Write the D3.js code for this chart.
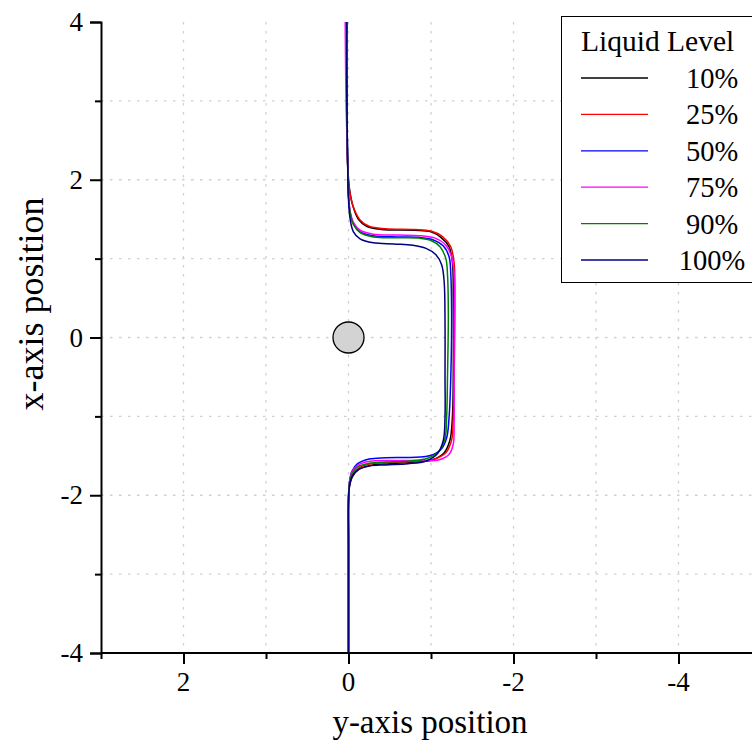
<!DOCTYPE html>
<html><head><meta charset="utf-8">
<script src="https://cdn.jsdelivr.net/npm/d3@7"></script>
<style>
html,body{margin:0;padding:0;background:#fff;overflow:hidden;}
svg{display:block;font-family:"Liberation Serif","Times New Roman",serif;}
</style></head>
<body>
<svg id="chart" width="752" height="742"></svg>
<script>
// ---- data: [y-axis position, x-axis position] pairs ----
const levels = ["10%", "25%", "50%", "75%", "90%", "100%"];
const path10 = [[0.03,4.0],[0.02,3.0],[0.01,2.2],[-0.01,1.9],[-0.05,1.68],[-0.12,1.5],[-0.22,1.41],[-0.4,1.37],[-0.8,1.36],[-1.0,1.34],[-1.12,1.27],[-1.22,1.15],[-1.26,0.95],[-1.27,0.5],[-1.27,-0.5],[-1.26,-1.0],[-1.23,-1.3],[-1.16,-1.46],[-1.02,-1.55],[-0.8,-1.58],[-0.5,-1.60],[-0.28,-1.62],[-0.13,-1.67],[-0.05,-1.76],[-0.01,-1.9],[0,-2.1],[0,-2.6],[0,-4.0]];
const path25 = [[0.02,4.0],[0.02,3.0],[0.01,2.2],[-0.01,1.88],[-0.06,1.65],[-0.14,1.49],[-0.25,1.41],[-0.45,1.38],[-0.8,1.37],[-1.0,1.35],[-1.14,1.28],[-1.24,1.15],[-1.28,0.95],[-1.29,0.5],[-1.28,-0.5],[-1.27,-1.0],[-1.25,-1.3],[-1.18,-1.46],[-1.03,-1.545],[-0.8,-1.57],[-0.5,-1.585],[-0.28,-1.6],[-0.13,-1.65],[-0.05,-1.74],[-0.01,-1.88],[0,-2.1],[0,-2.6],[0,-4.0]];
const path50 = [[0.03,4.0],[0.02,3.0],[0.01,2.2],[0.0,1.8],[-0.02,1.58],[-0.06,1.44],[-0.14,1.34],[-0.3,1.29],[-0.6,1.275],[-0.85,1.27],[-1.02,1.24],[-1.15,1.16],[-1.22,1.02],[-1.24,0.8],[-1.25,0.3],[-1.24,-0.5],[-1.22,-1.0],[-1.19,-1.27],[-1.12,-1.42],[-0.98,-1.5],[-0.75,-1.52],[-0.45,-1.525],[-0.25,-1.54],[-0.11,-1.6],[-0.04,-1.7],[-0.01,-1.85],[0,-2.05],[0,-2.6],[0,-4.0]];
const path75 = [[0.04,4.0],[0.03,3.0],[0.01,2.2],[0.0,1.8],[-0.02,1.6],[-0.06,1.46],[-0.14,1.36],[-0.3,1.31],[-0.6,1.3],[-0.88,1.29],[-1.05,1.26],[-1.18,1.17],[-1.25,1.02],[-1.28,0.8],[-1.28,0.2],[-1.28,-0.6],[-1.28,-1.1],[-1.27,-1.35],[-1.22,-1.48],[-1.1,-1.55],[-0.85,-1.56],[-0.5,-1.56],[-0.26,-1.57],[-0.11,-1.62],[-0.04,-1.71],[-0.01,-1.86],[0,-2.05],[0,-2.6],[0,-4.0]];
const path90 = [[0.02,4.0],[0.02,3.0],[0.01,2.2],[0.0,1.8],[-0.02,1.58],[-0.06,1.43],[-0.14,1.33],[-0.3,1.275],[-0.6,1.265],[-0.85,1.26],[-1.0,1.23],[-1.11,1.15],[-1.18,1.0],[-1.2,0.8],[-1.21,0.3],[-1.2,-0.5],[-1.19,-1.0],[-1.17,-1.28],[-1.1,-1.44],[-0.96,-1.53],[-0.75,-1.565],[-0.45,-1.58],[-0.25,-1.595],[-0.11,-1.64],[-0.04,-1.73],[-0.01,-1.87],[0,-2.05],[0,-2.6],[0,-4.0]];
const path100 = [[0.02,4.0],[0.02,3.0],[0.01,2.2],[0.0,1.75],[-0.02,1.5],[-0.06,1.34],[-0.14,1.25],[-0.3,1.2],[-0.55,1.185],[-0.78,1.17],[-0.94,1.13],[-1.06,1.05],[-1.13,0.92],[-1.16,0.7],[-1.17,0.2],[-1.17,-0.5],[-1.17,-1.0],[-1.15,-1.3],[-1.08,-1.47],[-0.94,-1.565],[-0.72,-1.6],[-0.45,-1.615],[-0.25,-1.63],[-0.11,-1.68],[-0.04,-1.77],[-0.01,-1.9],[0,-2.1],[0,-2.6],[0,-4.0]];
const obstacle = [0, 0]; // circle centre
const xMajorTicks = [2, 0, -2, -4];
const xMinorTicks = [3, 1, -1, -3, -5];
const yMajorTicks = [4, 2, 0, -2, -4];
const yMinorTicks = [3, 1, -1, -3];
const xGridVals = [2, 1, 0, -1, -2, -3, -4, -5];
const yGridVals = [3, 2, 1, 0, -1, -2, -3];

// ---- styles ----
const colors = ["#000000", "#ff0000", "#0000ff", "#ff00ff", "#008000", "#000080"];
const paths = [path10, path25, path50, path75, path90, path100];
const SERIF = "'Liberation Serif','Times New Roman',serif";

const svg = d3.select("#chart");
const x = d3.scaleLinear().domain([3, -5]).range([101, 761]);
const y = d3.scaleLinear().domain([4, -4]).range([22, 653]);

// grid
const grid = svg.append("g").attr("stroke", "#cfcfcf").attr("stroke-width", 1.3).attr("stroke-dasharray", "2.5,6.5");
grid.selectAll(".gx").data(xGridVals).join("line")
  .attr("x1", d => x(d)).attr("x2", d => x(d)).attr("y1", y(4)).attr("y2", y(-4));
grid.selectAll(".gy").data(yGridVals).join("line")
  .attr("y1", d => y(d)).attr("y2", d => y(d)).attr("x1", x(3)).attr("x2", 752);

// curves
const line = d3.line().x(d => x(d[0])).y(d => y(d[1])).curve(d3.curveCatmullRom.alpha(0.5));
svg.append("g").selectAll("path").data(paths).join("path")
  .attr("d", d => line(d)).attr("fill", "none")
  .attr("stroke", (d, i) => colors[i]).attr("stroke-width", 1.5);

// obstacle
svg.append("circle").attr("cx", x(obstacle[0])).attr("cy", y(obstacle[1])).attr("r", 15.5)
  .attr("fill", "#d3d3d3").attr("stroke", "#000").attr("stroke-width", 1.3);

// axes (tick marks through d3 axes, labels drawn as serif text from the same scales)
function styleAxis(g) {
  g.select(".domain").attr("stroke", "#000").attr("stroke-width", 2);
  g.selectAll(".tick line").attr("stroke", "#000").attr("stroke-width", 2);
  g.selectAll(".tick text").remove();
}
const xAxis = svg.append("g").attr("transform", `translate(0,${y(-4)})`)
  .call(d3.axisBottom(x).tickValues(xMajorTicks).tickSize(11).tickFormat(() => ""));
styleAxis(xAxis);
xAxis.select(".domain").attr("d", `M${x(3)},0H752`);
const xMinor = svg.append("g").attr("transform", `translate(0,${y(-4)})`)
  .call(d3.axisBottom(x).tickValues(xMinorTicks).tickSize(6).tickFormat(() => ""));
styleAxis(xMinor); xMinor.select(".domain").remove();

const yAxis = svg.append("g").attr("transform", `translate(${x(3)},0)`)
  .call(d3.axisLeft(y).tickValues(yMajorTicks).tickSize(11).tickFormat(() => ""));
styleAxis(yAxis);
const yMinor = svg.append("g").attr("transform", `translate(${x(3)},0)`)
  .call(d3.axisLeft(y).tickValues(yMinorTicks).tickSize(6).tickFormat(() => ""));
styleAxis(yMinor); yMinor.select(".domain").remove();

svg.append("g").selectAll("text").data(xMajorTicks).join("text")
  .attr("x", d => x(d)).attr("y", y(-4) + 38).attr("text-anchor", "middle")
  .style("font-family", SERIF).style("font-size", "27px").attr("fill", "#000")
  .text(d => String(d));
svg.append("g").selectAll("text").data(yMajorTicks).join("text")
  .attr("x", x(3) - 18).attr("y", d => y(d) + 9).attr("text-anchor", "end")
  .style("font-family", SERIF).style("font-size", "27px").attr("fill", "#000")
  .text(d => String(d));

// titles
svg.append("text").attr("x", 430).attr("y", 733).attr("text-anchor", "middle")
  .style("font-family", SERIF).style("font-size", "33px").text("y-axis position");
svg.append("text").attr("transform", "translate(43,304) rotate(-90)").attr("text-anchor", "middle")
  .style("font-family", SERIF).style("font-size", "36px").text("x-axis position");

// legend
const lg = svg.append("g");
lg.append("rect").attr("x", 561.5).attr("y", 16.5).attr("width", 200).attr("height", 266)
  .attr("fill", "#fff").attr("stroke", "#000").attr("stroke-width", 1);
lg.append("text").attr("x", 581).attr("y", 51).style("font-family", SERIF).style("font-size", "29.5px").text("Liquid Level");
const rowY = d3.scaleLinear().domain([0, 5]).range([78, 260]);
levels.forEach((lab, i) => {
  lg.append("line").attr("x1", 581).attr("x2", 648).attr("y1", rowY(i)).attr("y2", rowY(i))
    .attr("stroke", colors[i]).attr("stroke-width", 1.3);
  lg.append("text").attr("x", 712).attr("y", rowY(i) + 10).attr("text-anchor", "middle")
    .style("font-family", SERIF).style("font-size", "28.5px").text(lab);
});
</script>
</body></html>
